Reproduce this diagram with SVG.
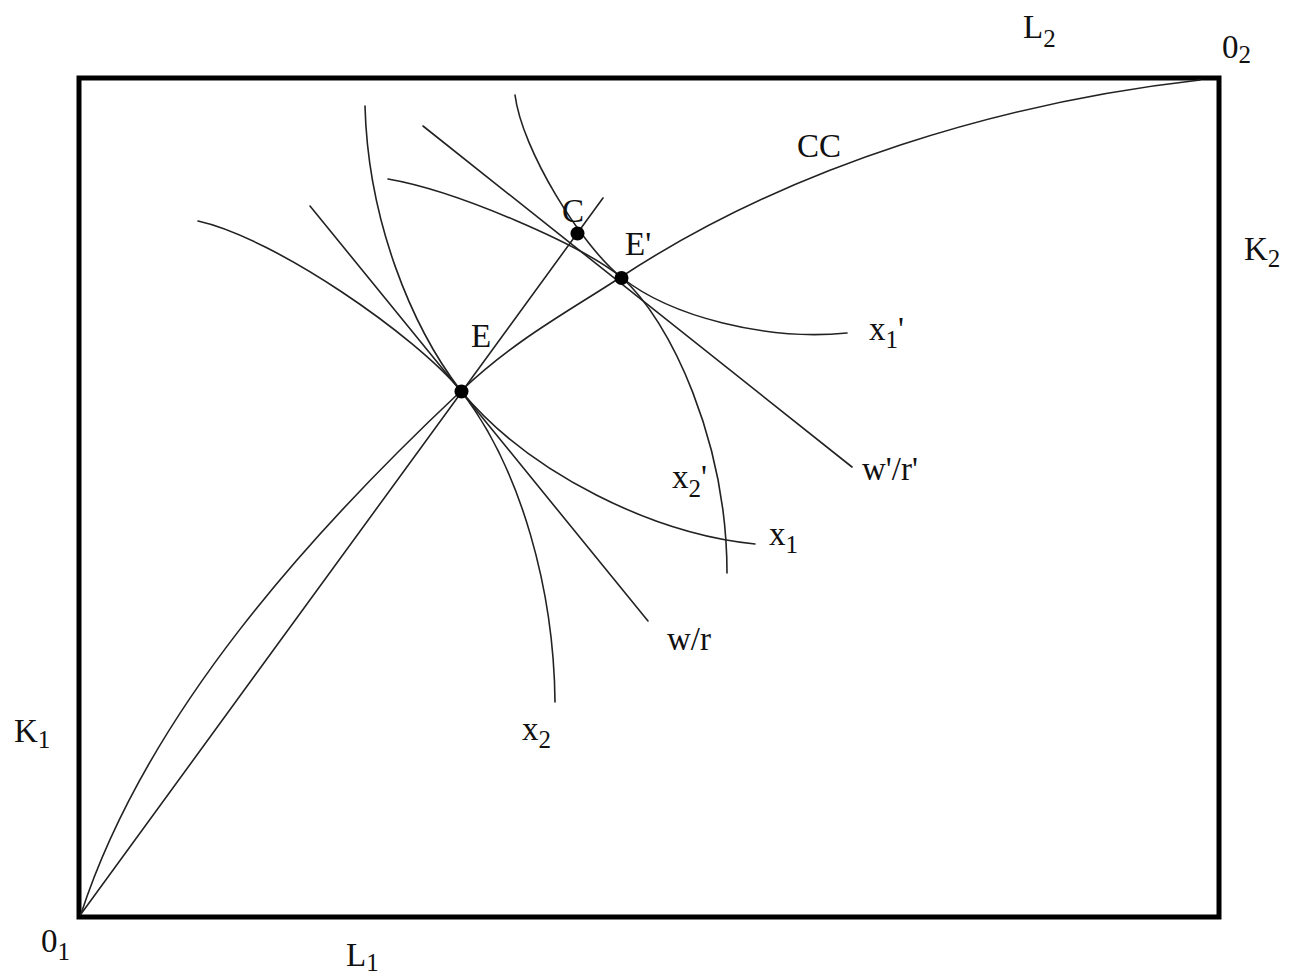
<svg xmlns="http://www.w3.org/2000/svg" width="1291" height="978" viewBox="0 0 1291 978">
<style>
.c{fill:none;stroke:#222;stroke-width:1.6;stroke-linecap:round}
.t{font-family:"Liberation Serif","Times New Roman",serif;font-size:33px;fill:#111}
.s{font-size:25px}
.d{fill:#000}
</style>
<rect x="0" y="0" width="1291" height="978" fill="#fff"/>
<g id="frame"><rect x="79" y="78" width="1140" height="839" fill="none" stroke="#000" stroke-width="5"/></g>
<g id="connectors">
<path id="cc" class="c" d="M81,914 C146,714 311,532 461,391 C516,339 566,313 621,277 C791,165 1005,102 1200,80"/>
<path id="ray" class="c" d="M81,914 L603,198"/>
<path id="wr" class="c" d="M310,206 L648,621"/>
<path id="wr2" class="c" d="M423,126 L852,467"/>
<path id="x1" class="c" d="M365,106 C368,220 411,326 461,391 C531,475 655,534 755,544"/>
<path id="x2" class="c" d="M198,221 C275,238 416,336 461,391 C522,470 554,592 555,702"/>
<path id="x1p" class="c" d="M515,95 C522,150 581,245 621,277 C671,317 767,341 847,333"/>
<path id="x2p" class="c" d="M388,179 C458,191 581,245 621,277 C671,320 727,443 727,573"/>
</g>
<g id="node-E"><circle class="d" cx="461.5" cy="391.5" r="7"/><text class="t" x="471" y="347">E</text></g>
<g id="node-Ep"><circle class="d" cx="621.5" cy="278" r="7"/><text class="t" x="625" y="255">E'</text></g>
<g id="node-C"><circle class="d" cx="577.5" cy="233.5" r="7"/><text class="t" x="562" y="222">C</text></g>
<g id="labels">
<text class="t" x="797" y="157">CC</text>
<text class="t" x="1023" y="38">L<tspan class="s" dy="9">2</tspan></text>
<text class="t" x="1222" y="58">0<tspan class="s" dy="5">2</tspan></text>
<text class="t" x="1244" y="260">K<tspan class="s" dy="7">2</tspan></text>
<text class="t" x="14" y="742">K<tspan class="s" dy="6">1</tspan></text>
<text class="t" x="41" y="952">0<tspan class="s" dy="8">1</tspan></text>
<text class="t" x="346" y="966">L<tspan class="s" dy="5">1</tspan></text>
<text class="t" x="869" y="340">x<tspan class="s" dy="8">1</tspan><tspan dy="-8">'</tspan></text>
<text class="t" x="862" y="480">w'/r'</text>
<text class="t" x="672" y="488">x<tspan class="s" dy="9">2</tspan><tspan dy="-9">'</tspan></text>
<text class="t" x="769" y="545">x<tspan class="s" dy="8">1</tspan></text>
<text class="t" x="667" y="650">w/r</text>
<text class="t" x="522" y="740">x<tspan class="s" dy="8">2</tspan></text>
</g>
</svg>
